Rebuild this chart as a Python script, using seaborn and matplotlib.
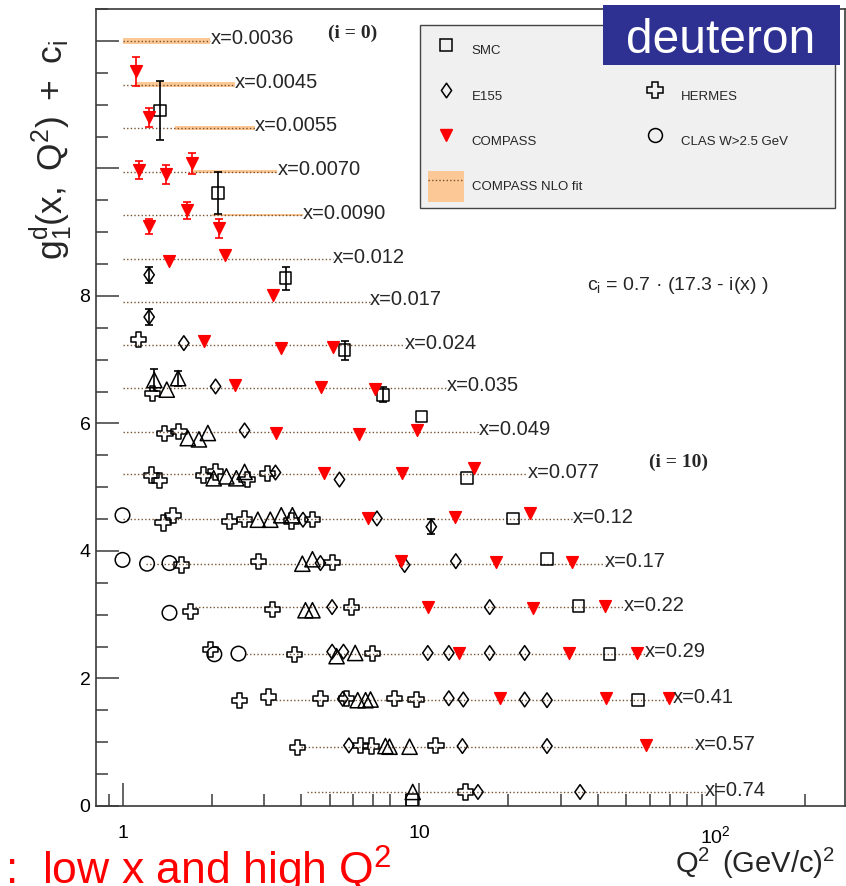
import matplotlib
matplotlib.use("Agg")
import matplotlib.pyplot as plt
import numpy as np
import pandas as pd
import seaborn as sns
from matplotlib.lines import Line2D
from matplotlib.patches import Patch, Rectangle
from matplotlib.path import Path
from matplotlib.ticker import FixedLocator, MultipleLocator, LogLocator, NullFormatter

# ---------------------------------------------------------------- x bins / NLO fit
bin_labels = ["x=0.0036", "x=0.0045", "x=0.0055", "x=0.0070", "x=0.0090", "x=0.012",
              "x=0.017", "x=0.024", "x=0.035", "x=0.049", "x=0.077", "x=0.12",
              "x=0.17", "x=0.22", "x=0.29", "x=0.41", "x=0.57", "x=0.74"]
fit_level = [12.00, 11.31, 10.64, 9.95, 9.27, 8.58, 7.91, 7.23, 6.56, 5.87,
             5.20, 4.50, 3.80, 3.12, 2.39, 1.67, 0.93, 0.22]
fit_q2_min = [1.0, 1.0, 1.0, 1.0, 1.0, 1.0, 1.0, 1.0, 1.0, 1.0,
              1.0, 1.0, 1.2, 1.75, 2.6, 3.2, 4.0, 4.2]
fit_q2_max = [1.98, 2.39, 2.79, 3.33, 4.05, 5.11, 6.81, 8.93, 12.4, 15.9,
              23.2, 33.0, 42.2, 49.0, 57.6, 71.6, 85.0, 91.8]
band_q2_min = [1.0, 1.1, 1.5, 1.7, 2.0]
band_half = [0.045, 0.040, 0.030, 0.025, 0.018]

# ---------------------------------------------------------------- experiments
compass_q2 = [1.11, 1.23, 1.14, 1.40, 1.72, 1.23, 1.65, 2.12, 1.43, 2.21, 3.21,
              1.88, 3.43, 5.12, 2.40, 4.68, 7.08, 3.30, 6.27, 9.86, 4.77, 8.79, 15.3,
              6.73, 13.2, 23.7, 8.71, 18.2, 32.9, 10.7, 24.2, 42.2, 13.6, 32.1, 54.2,
              18.8, 42.8, 69.5, 58.2]
compass_y = [11.52, 10.80, 9.97, 9.91, 10.08, 9.09, 9.34, 9.06, 8.54, 8.64, 8.02,
             7.29, 7.19, 7.20, 6.60, 6.57, 6.54, 5.85, 5.84, 5.89, 5.23, 5.23, 5.30,
             4.51, 4.54, 4.60, 3.84, 3.82, 3.82, 3.12, 3.10, 3.14, 2.40, 2.40, 2.40,
             1.69, 1.69, 1.69, 0.96]
compass_err = [0.22, 0.15, 0.14, 0.15, 0.16, 0.12, 0.13, 0.15, 0, 0, 0,
               0, 0, 0, 0, 0, 0, 0, 0, 0, 0, 0, 0,
               0, 0, 0, 0, 0, 0, 0, 0, 0, 0, 0, 0,
               0, 0, 0, 0]

smc_q2 = [1.34, 2.10, 3.55, 5.61, 7.55, 10.2, 14.5, 20.7, 27.0, 34.5, 43.9, 54.8, 9.48]
smc_y = [10.91, 9.61, 8.28, 7.15, 6.45, 6.11, 5.14, 4.51, 3.87, 3.14, 2.38, 1.66, 0.09]
smc_err = [0.46, 0.33, 0.18, 0.15, 0.12, 0, 0, 0, 0, 0, 0, 0, 0]

e155_q2 = [1.23, 1.23, 1.61, 2.06, 2.58, 3.28, 5.39, 4.06, 7.21, 11.0,
           4.65, 8.94, 13.3, 5.09, 17.3, 5.09, 5.56, 10.7, 12.6, 17.3, 22.7,
           5.53, 12.6, 14.1, 22.7, 27.0, 5.80, 14.0, 27.0, 15.8, 34.9]
e155_y = [8.33, 7.67, 7.26, 6.58, 5.89, 5.23, 5.12, 4.49, 4.51, 4.38,
          3.81, 3.78, 3.84, 3.12, 3.12, 2.42, 2.42, 2.40, 2.40, 2.40, 2.40,
          1.68, 1.69, 1.67, 1.67, 1.66, 0.95, 0.94, 0.94, 0.22, 0.22]
e155_err = [0.12, 0.13, 0, 0, 0, 0, 0, 0, 0, 0.12,
            0, 0, 0, 0, 0, 0, 0, 0, 0, 0, 0,
            0, 0, 0, 0, 0, 0, 0, 0, 0, 0]

hermes_q2 = [1.13, 1.26, 1.39, 1.55, 1.25, 1.33, 1.87, 2.06, 2.63, 3.09,
             1.37, 1.48, 2.29, 2.58, 3.71, 4.38, 1.58, 2.88, 5.09,
             1.70, 3.20, 5.91, 1.98, 3.80, 6.98,
             2.48, 3.10, 4.64, 5.68, 8.26, 9.77, 3.90, 6.33, 6.89, 11.4, 14.3]
hermes_y = [7.32, 6.47, 5.84, 5.87, 5.19, 5.11, 5.19, 5.24, 5.12, 5.22,
            4.44, 4.55, 4.46, 4.50, 4.47, 4.49, 3.78, 3.83, 3.82,
            3.05, 3.08, 3.12, 2.46, 2.38, 2.39,
            1.66, 1.71, 1.68, 1.68, 1.68, 1.67, 0.92, 0.95, 0.94, 0.95, 0.22]

e143_q2 = [1.28, 1.41, 1.54, 1.66, 1.81, 1.94, 2.03, 2.24, 2.42, 2.58, 2.86, 3.15,
           3.43, 3.74, 4.04, 4.37, 4.14, 4.37, 5.27, 6.09, 6.21, 6.60, 6.86,
           7.70, 7.95, 9.29, 9.52]
e143_y = [6.68, 6.53, 6.71, 5.77, 5.75, 5.85, 5.14, 5.17, 5.14, 5.24, 4.49, 4.49,
          4.56, 4.56, 3.80, 3.87, 3.07, 3.07, 2.35, 2.40, 1.66, 1.66, 1.67,
          0.94, 0.93, 0.93, 0.22]
e143_err = [0.17, 0, 0.12, 0, 0, 0, 0, 0, 0, 0, 0, 0,
            0, 0, 0, 0, 0, 0, 0, 0, 0, 0, 0,
            0, 0, 0, 0]

clas_q2 = [1.0, 1.0, 1.21, 1.44, 1.44, 2.04, 2.46]
clas_y = [4.56, 3.86, 3.80, 3.81, 3.03, 2.38, 2.39]

# ---------------------------------------------------------------- style
sns.set_theme(style="white")
plt.rcParams["font.family"] = ["Liberation Sans", "DejaVu Sans"]
plt.rcParams["mathtext.fontset"] = "custom"
plt.rcParams["mathtext.rm"] = "Liberation Sans"
plt.rcParams["mathtext.it"] = "Liberation Sans"
plt.rcParams["mathtext.bf"] = "Liberation Sans:bold"

RED = "#ff0000"
BAND = "#fcc895"
FITLINE = "#7a5230"
FRAME = "#3a3a3a"

# open diamond, a little wider than matplotlib's thin diamond
DIAMOND = Path([(0, 1), (0.7, 0), (0, -1), (-0.7, 0), (0, 1)],
               [Path.MOVETO, Path.LINETO, Path.LINETO, Path.LINETO, Path.CLOSEPOLY])

fig = plt.figure(figsize=(8.46, 8.86), dpi=100)
ax = fig.add_axes([96 / 846, 80 / 886, 749 / 846, 797 / 886])
ax.set_xscale("log")
ax.set_xlim(0.814, 273)
ax.set_ylim(0, 12.5)

# NLO fit: uncertainty bands and dotted curves
for i, hw in enumerate(band_half):
    q = np.array([band_q2_min[i], fit_q2_max[i]])
    ax.fill_between(q, fit_level[i] - hw, fit_level[i] + hw, color=BAND, lw=0, zorder=1)
for i, lvl in enumerate(fit_level):
    ax.plot([fit_q2_min[i], fit_q2_max[i]], [lvl, lvl], color=FITLINE,
            linestyle=(0, (1, 1.6)), lw=1.0, zorder=2)
    ax.text(fit_q2_max[i], lvl + 0.03, bin_labels[i], fontsize=14.5,
            ha="left", va="center", zorder=6)


def draw_set(q2, y, marker, size, face, edge, err=None, ecolor="black", z=4):
    df = pd.DataFrame({"Q2": q2, "y": y})
    if err is not None:
        e = np.asarray(err)
        m = e > 0
        ax.errorbar(np.asarray(q2)[m], np.asarray(y)[m], yerr=e[m], fmt="none",
                    ecolor=ecolor, elinewidth=1.2, capsize=3, capthick=1.2, zorder=z - 0.5)
    sns.scatterplot(data=df, x="Q2", y="y", marker=marker, s=size,
                    facecolor=face, edgecolor=edge, linewidth=1.1, ax=ax,
                    zorder=z, legend=False)


draw_set(clas_q2, clas_y, "o", 110, "none", "black")
draw_set(hermes_q2, hermes_y, "P", 120, "none", "black")
draw_set(e143_q2, e143_y, "^", 120, "none", "black", e143_err)
draw_set(e155_q2, e155_y, DIAMOND, 112, "none", "black", e155_err)
draw_set(smc_q2, smc_y, "s", 70, "none", "black", smc_err)
draw_set(compass_q2, compass_y, "v", 70, RED, RED, compass_err, ecolor=RED, z=5)

# ---------------------------------------------------------------- axes
for sp in ax.spines.values():
    sp.set_color(FRAME)
    sp.set_linewidth(1.2)
ax.set_xticks([1, 10, 100])
ax.set_xticklabels(["1", "10", r"$\mathrm{10^2}$"])
ax.xaxis.set_minor_locator(LogLocator(base=10, subs=np.arange(2, 10)))
ax.xaxis.set_minor_formatter(NullFormatter())
ax.yaxis.set_major_locator(FixedLocator([0, 2, 4, 6, 8, 10, 12]))
ax.set_yticklabels(["0", "2", "4", "6", "8", "", ""])
ax.yaxis.set_minor_locator(MultipleLocator(0.5))
ax.tick_params(which="both", direction="in", top=False, right=False,
               bottom=True, left=True, color=FRAME, labelcolor="black", labelsize=14)
ax.tick_params(which="major", length=16.5, width=1.1)
ax.tick_params(which="minor", length=8.6, width=1.1)
ax.tick_params(axis="x", pad=13.5)
ax.tick_params(axis="y", pad=4)

ax.set_xlabel(r"$\mathrm{Q^2\ \,(GeV/c)^2}$", fontsize=21, loc="right")
ax.xaxis.set_label_coords((835 - 96) / 749, -(846 - 806) / 797)
ax.set_ylabel(r"$\mathrm{g_1^d(x,\ Q^2)\ +\ c_i}$", fontsize=25.5, loc="top")
ax.yaxis.set_label_coords(-(96 - 75) / 749, (806 - 40) / 797)

fig.text(353 / 846, 1 - 33 / 886, "(i = 0)", fontsize=14, fontweight="bold",
         family="Liberation Serif", ha="center", va="center")
fig.text(678 / 846, 1 - 462 / 886, "(i = 10)", fontsize=14, fontweight="bold",
         family="Liberation Serif", ha="center", va="center")
fig.text(587 / 846, 1 - 285 / 886, r"$\mathrm{c_i}$ = 0.7 · (17.3 - i(x) )",
         fontsize=14, ha="left", va="center")

# ---------------------------------------------------------------- legend
h_smc = Line2D([], [], ls="none", marker="s", ms=8, mfc="none", mec="black", mew=1.1)
h_e155 = Line2D([], [], ls="none", marker=DIAMOND, ms=10.5, mfc="none", mec="black", mew=1.1)
h_compass = Line2D([], [], ls="none", marker="v", ms=8, mfc=RED, mec=RED)
h_fit = (Patch(fc=BAND, ec="none"),
         Line2D([], [], color=FITLINE, linestyle=(0, (1, 1.6)), lw=1.0))
h_blank = Line2D([], [], ls="none")
h_hermes = Line2D([], [], ls="none", marker="P", ms=11, mfc="none", mec="black", mew=1.1)
h_clas = Line2D([], [], ls="none", marker="o", ms=10, mfc="none", mec="black", mew=1.1)

legend_box = Rectangle((420 / 846, 1 - 208 / 886), 415 / 846, 183 / 886,
                       transform=fig.transFigure, fc="#f0f0f0", ec="#444444",
                       lw=1.0, zorder=4.8, clip_on=False)
ax.add_patch(legend_box)
leg = ax.legend([h_smc, h_e155, h_compass, h_fit, h_blank, h_hermes, h_clas],
                ["SMC", "E155", "COMPASS", "COMPASS NLO fit", "", "HERMES", "CLAS W>2.5 GeV"],
                ncol=2, loc="upper left", bbox_to_anchor=(428 / 846, 1 - 35 / 886),
                bbox_transform=fig.transFigure, frameon=False, fontsize=9.5,
                borderpad=0, borderaxespad=0, handlelength=2.7, handleheight=3.24,
                handletextpad=0.6, labelspacing=1.08, columnspacing=4.2)
leg.set_zorder(5)

# ---------------------------------------------------------------- decorations
fig.add_artist(Rectangle((603 / 846, 1 - 65 / 886), 237 / 846, 60 / 886,
                         transform=fig.transFigure, fc="#2e3192", ec="none", zorder=10))
fig.text(721 / 846, 1 - 53 / 886, "deuteron", color="white", fontsize=34.5,
         ha="center", va="baseline", zorder=11)
fig.text(5 / 846, 1 / 886, r":  low x and high Q$^2$", color=RED, fontsize=32,
         ha="left", va="baseline")

fig.savefig("out.png", dpi=100)
